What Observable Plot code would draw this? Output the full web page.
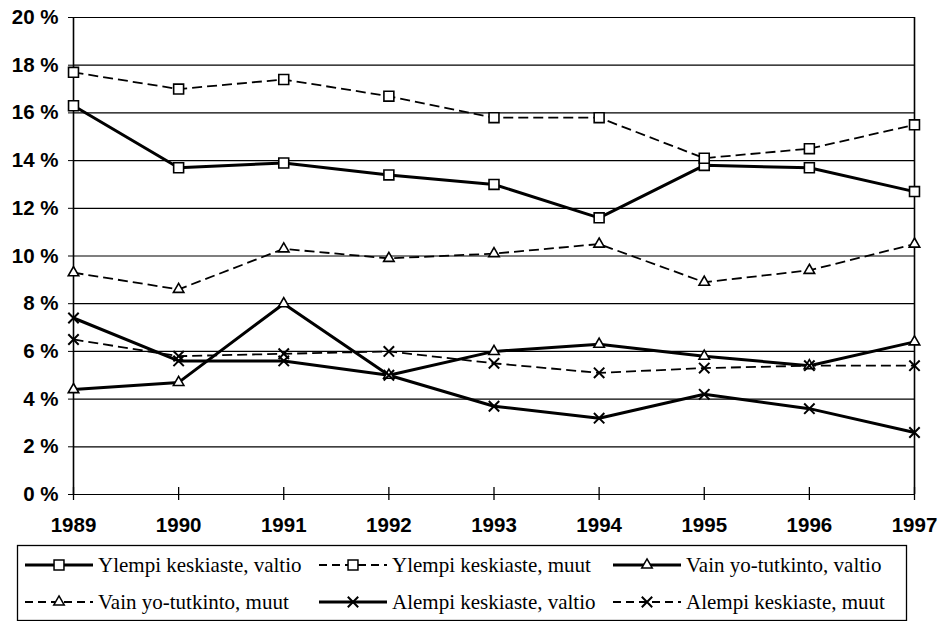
<!DOCTYPE html>
<html>
<head>
<meta charset="utf-8">
<script src="https://cdn.jsdelivr.net/npm/d3@7"></script>
<script src="https://cdn.jsdelivr.net/npm/@observablehq/plot@0.6"></script>
<style>
  html, body { margin: 0; padding: 0; background: #fff; }
  #chart svg, #legend svg { display: block; }
  #legend text { font-family: "Liberation Serif", "Times New Roman", serif; font-size: 21px; }
</style>
</head>
<body>
<div id="chart"></div>
<div id="legend"></div>
<script>
// ---- data ----
const years = [1989, 1990, 1991, 1992, 1993, 1994, 1995, 1996, 1997];
const yTicks = [0, 2, 4, 6, 8, 10, 12, 14, 16, 18, 20];

const ylempiValtio = [16.3, 13.7, 13.9, 13.4, 13.0, 11.6, 13.8, 13.7, 12.7];
const ylempiMuut   = [17.7, 17.0, 17.4, 16.7, 15.8, 15.8, 14.1, 14.5, 15.5];
const vainValtio   = [4.4, 4.7, 8.0, 5.0, 6.0, 6.3, 5.8, 5.4, 6.4];
const vainMuut     = [9.3, 8.6, 10.3, 9.9, 10.1, 10.5, 8.9, 9.4, 10.5];
const alempiValtio = [7.4, 5.6, 5.6, 5.0, 3.7, 3.2, 4.2, 3.6, 2.6];
const alempiMuut   = [6.5, 5.8, 5.9, 6.0, 5.5, 5.1, 5.3, 5.4, 5.4];

const seriesNames = [
  "Ylempi keskiaste, valtio",
  "Ylempi keskiaste, muut",
  "Vain yo-tutkinto, valtio",
  "Vain yo-tutkinto, muut",
  "Alempi keskiaste, valtio",
  "Alempi keskiaste, muut"
];
const seriesValues = [ylempiValtio, ylempiMuut, vainValtio, vainMuut, alempiValtio, alempiMuut];

// ---- styles ----
const styles = [
  {dash: null, width: 3, symbol: "square", d3sym: d3.symbolSquare, r: 5.6},
  {dash: "10,5", width: 1.8, symbol: "square", d3sym: d3.symbolSquare, r: 5.6},
  {dash: null, width: 3, symbol: "triangle", d3sym: d3.symbolTriangle, r: 3.9},
  {dash: "10,5", width: 1.8, symbol: "triangle", d3sym: d3.symbolTriangle, r: 3.9},
  {dash: null, width: 3, symbol: "times", d3sym: d3.symbolTimes, r: 4.8},
  {dash: "10,5", width: 1.8, symbol: "times", d3sym: d3.symbolTimes, r: 4.8}
];

const tables = seriesValues.map((vals, i) =>
  years.map((year, j) => ({year, value: vals[j], series: seriesNames[i]})));

const lineMarks = [];
const dotMarks = [];
tables.forEach((t, i) => {
  const s = styles[i];
  lineMarks.push(Plot.lineY(t, {
    x: "year", y: "value", stroke: "black", strokeWidth: s.width,
    strokeDasharray: s.dash, strokeLinejoin: "miter", strokeLinecap: "butt"
  }));
  dotMarks.push(Plot.dot(t, {
    x: "year", y: "value", symbol: () => s.symbol, r: s.r,
    fill: s.symbol === "times" ? "none" : "white",
    stroke: "black", strokeWidth: s.symbol === "times" ? 2 : 1.6
  }));
});

const xExtent = d3.extent(years);
const yExtent = d3.extent(yTicks);

const chart = Plot.plot({
  width: 941,
  height: 540,
  marginLeft: 73,
  marginRight: 27,
  marginTop: 17,
  marginBottom: 46,
  style: {fontFamily: "'Liberation Sans', Arial, sans-serif", fontSize: "20px", fontWeight: "bold", background: "white", color: "black", overflow: "visible"},
  x: {domain: xExtent, type: "linear"},
  y: {domain: yExtent},
  symbol: {type: "identity"},
  marks: [
    Plot.ruleY(yTicks, {y: d => d, stroke: "black", strokeWidth: 1.2}),
    Plot.ruleX(xExtent, {x: d => d, y1: yExtent[0], y2: yExtent[1], stroke: "black", strokeWidth: 1.6}),
    Plot.ruleX(years, {x: d => d, y1: yExtent[0], y2: yExtent[0], insetTop: -7, insetBottom: -6, stroke: "black", strokeWidth: 1.3}),
    Plot.axisY({ticks: yTicks, tickFormat: d => d + " %", tickSize: 5, tickPadding: 10, label: null, fontSize: 20.5, fontWeight: "bold", stroke: "black"}),
    Plot.axisX({ticks: years, tickFormat: d => String(d), tickSize: 0, tickPadding: 23, label: null, fontSize: 20.5, fontWeight: "bold"}),
    ...lineMarks,
    ...dotMarks
  ]
});
document.getElementById("chart").appendChild(chart);

// ---- legend ----
const lsvg = d3.select("#legend").append("svg")
  .attr("width", 941).attr("height", 81);
lsvg.append("rect")
  .attr("x", 17.5).attr("y", 5.5).attr("width", 889).attr("height", 75)
  .attr("fill", "white").attr("stroke", "black").attr("stroke-width", 1.3);

const colX = [25, 319, 613];
const rowY = [25, 62];
seriesNames.forEach((name, i) => {
  const s = styles[i];
  const cx = colX[i % 3];
  const cy = rowY[Math.floor(i / 3)];
  const g = lsvg.append("g");
  g.append("line")
    .attr("x1", cx).attr("x2", cx + 68).attr("y1", cy).attr("y2", cy)
    .attr("stroke", "black").attr("stroke-width", s.width)
    .attr("stroke-dasharray", s.dash ? "8,5" : null);
  g.append("path")
    .attr("transform", `translate(${cx + 34},${cy})`)
    .attr("d", d3.symbol(s.d3sym, s.r * s.r * Math.PI)())
    .attr("fill", s.symbol === "times" ? "none" : "white")
    .attr("stroke", "black").attr("stroke-width", s.symbol === "times" ? 2 : 1.5);
  g.append("text")
    .attr("x", cx + 73).attr("y", cy).attr("dy", "0.35em")
    .text(name);
});
</script>
</body>
</html>
